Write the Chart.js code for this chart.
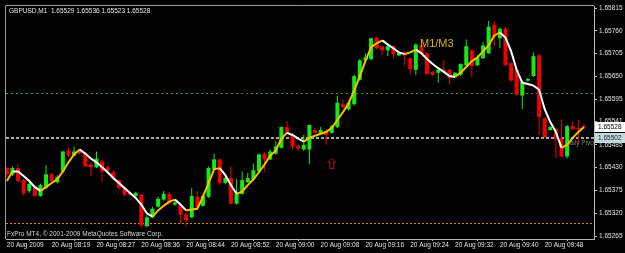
<!DOCTYPE html>
<html>
<head>
<meta charset="utf-8">
<script src="https://cdn.jsdelivr.net/npm/chart.js@4.4.1/dist/chart.umd.min.js"></script>
<style>
html, body { margin: 0; padding: 0; background: #000; }
canvas { display: block; }
</style>
</head>
<body>
<canvas id="chart" width="625" height="253"></canvas>
<script>
// GBPUSD M1, 20 Aug 2009 (one minute missing between 08:31 and 08:33)
const times = [
    '08:11','08:12','08:13','08:14','08:15','08:16','08:17','08:18','08:19','08:20',
    '08:21','08:22','08:23','08:24','08:25','08:26','08:27','08:28','08:29','08:30',
    '08:31','08:33','08:34','08:35','08:36','08:37','08:38','08:39','08:40','08:41',
    '08:42','08:43','08:44','08:45','08:46','08:47','08:48','08:49','08:50','08:51',
    '08:52','08:53','08:54','08:55','08:56','08:57','08:58','08:59','09:00','09:01',
    '09:02','09:03','09:04','09:05','09:06','09:07','09:08','09:09','09:10','09:11',
    '09:12','09:13','09:14','09:15','09:16','09:17','09:18','09:19','09:20','09:21',
    '09:22','09:23','09:24','09:25','09:26','09:27','09:28','09:29','09:30','09:31',
    '09:32','09:33','09:34','09:35','09:36','09:37','09:38','09:39','09:40','09:41',
    '09:42','09:43','09:44','09:45','09:46','09:47','09:48','09:49','09:50','09:51',
    '09:52','09:53','09:54','09:55'
];

const opens = [
    1.65429, 1.65414, 1.65429, 1.65400, 1.65374, 1.65386, 1.65362, 1.65381, 1.65414, 1.65395,
    1.65421, 1.65471, 1.65459, 1.65471, 1.65464, 1.65438, 1.65431, 1.65445, 1.65431, 1.65419,
    1.65400, 1.65381, 1.65369, 1.65362, 1.65365, 1.65289, 1.65310, 1.65336, 1.65353, 1.65367,
    1.65341, 1.65341, 1.65317, 1.65310, 1.65360, 1.65338, 1.65360, 1.65426, 1.65450, 1.65393,
    1.65405, 1.65343, 1.65367, 1.65395, 1.65402, 1.65421, 1.65464, 1.65450, 1.65464, 1.65478,
    1.65528, 1.65509, 1.65483, 1.65474, 1.65474, 1.65521, 1.65514, 1.65519, 1.65514, 1.65528,
    1.65583, 1.65571, 1.65583, 1.65642, 1.65689, 1.65692, 1.65744, 1.65723, 1.65713, 1.65723,
    1.65701, 1.65708, 1.65694, 1.65666, 1.65725, 1.65706, 1.65661, 1.65659, 1.65666, 1.65666,
    1.65651, 1.65654, 1.65677, 1.65713, 1.65677, 1.65694, 1.65706, 1.65775, 1.65742, 1.65765,
    1.65682, 1.65666, 1.65604, 1.65640, 1.65651, 1.65701, 1.65549, 1.65521, 1.65523, 1.65500,
    1.65457, 1.65530, 1.65526, 1.65529
];
const highs = [
    1.65433, 1.65433, 1.65438, 1.65402, 1.65395, 1.65388, 1.65391, 1.65436, 1.65419, 1.65412,
    1.65471, 1.65478, 1.65481, 1.65476, 1.65467, 1.65443, 1.65469, 1.65450, 1.65436, 1.65424,
    1.65402, 1.65386, 1.65372, 1.65372, 1.65367, 1.65315, 1.65336, 1.65360, 1.65374, 1.65372,
    1.65350, 1.65343, 1.65322, 1.65381, 1.65374, 1.65365, 1.65433, 1.65464, 1.65452, 1.65410,
    1.65433, 1.65402, 1.65421, 1.65417, 1.65440, 1.65464, 1.65467, 1.65474, 1.65493, 1.65530,
    1.65542, 1.65514, 1.65485, 1.65509, 1.65535, 1.65526, 1.65528, 1.65523, 1.65533, 1.65604,
    1.65595, 1.65592, 1.65654, 1.65692, 1.65706, 1.65744, 1.65746, 1.65725, 1.65725, 1.65725,
    1.65711, 1.65711, 1.65696, 1.65730, 1.65737, 1.65708, 1.65663, 1.65668, 1.65689, 1.65668,
    1.65661, 1.65682, 1.65739, 1.65715, 1.65701, 1.65734, 1.65784, 1.65784, 1.65768, 1.65770,
    1.65685, 1.65668, 1.65640, 1.65647, 1.65708, 1.65704, 1.65552, 1.65530, 1.65526, 1.65547,
    1.65533, 1.65542, 1.65545, 1.65536
];
const lows = [
    1.65407, 1.65410, 1.65395, 1.65362, 1.65369, 1.65360, 1.65360, 1.65379, 1.65395, 1.65391,
    1.65417, 1.65455, 1.65457, 1.65462, 1.65431, 1.65410, 1.65429, 1.65395, 1.65419, 1.65400,
    1.65376, 1.65362, 1.65362, 1.65360, 1.65284, 1.65286, 1.65308, 1.65334, 1.65350, 1.65341,
    1.65338, 1.65296, 1.65289, 1.65308, 1.65331, 1.65336, 1.65357, 1.65424, 1.65388, 1.65391,
    1.65341, 1.65341, 1.65365, 1.65393, 1.65400, 1.65419, 1.65421, 1.65448, 1.65462, 1.65476,
    1.65512, 1.65474, 1.65471, 1.65471, 1.65438, 1.65512, 1.65509, 1.65485, 1.65512, 1.65526,
    1.65573, 1.65568, 1.65580, 1.65640, 1.65687, 1.65689, 1.65715, 1.65701, 1.65699, 1.65694,
    1.65699, 1.65677, 1.65656, 1.65654, 1.65701, 1.65654, 1.65651, 1.65635, 1.65659, 1.65630,
    1.65649, 1.65651, 1.65675, 1.65649, 1.65675, 1.65692, 1.65704, 1.65723, 1.65718, 1.65675,
    1.65637, 1.65604, 1.65571, 1.65637, 1.65649, 1.65509, 1.65502, 1.65519, 1.65452, 1.65455,
    1.65452, 1.65521, 1.65488, 1.65523
];
const closes = [
    1.65414, 1.65429, 1.65398, 1.65369, 1.65391, 1.65362, 1.65388, 1.65414, 1.65398, 1.65407,
    1.65469, 1.65459, 1.65469, 1.65464, 1.65433, 1.65431, 1.65452, 1.65421, 1.65424, 1.65402,
    1.65381, 1.65365, 1.65365, 1.65369, 1.65291, 1.65310, 1.65331, 1.65355, 1.65367, 1.65343,
    1.65346, 1.65317, 1.65303, 1.65362, 1.65334, 1.65362, 1.65429, 1.65450, 1.65393, 1.65405,
    1.65343, 1.65367, 1.65400, 1.65405, 1.65424, 1.65462, 1.65450, 1.65469, 1.65481, 1.65528,
    1.65514, 1.65481, 1.65476, 1.65485, 1.65533, 1.65514, 1.65521, 1.65509, 1.65530, 1.65587,
    1.65576, 1.65587, 1.65651, 1.65689, 1.65696, 1.65742, 1.65718, 1.65713, 1.65723, 1.65704,
    1.65708, 1.65701, 1.65668, 1.65727, 1.65704, 1.65656, 1.65654, 1.65666, 1.65661, 1.65647,
    1.65659, 1.65680, 1.65723, 1.65675, 1.65696, 1.65725, 1.65770, 1.65746, 1.65765, 1.65677,
    1.65640, 1.65606, 1.65637, 1.65644, 1.65699, 1.65552, 1.65504, 1.65528, 1.65500, 1.65457,
    1.65530, 1.65523, 1.65523, 1.65528
];
// M1/M3 trend line
const maValues = [
    1.65398, 1.65421, 1.65421, 1.65410, 1.65398, 1.65383, 1.65374, 1.65383, 1.65393, 1.65402,
    1.65421, 1.65443, 1.65462, 1.65474, 1.65464, 1.65452, 1.65443, 1.65431, 1.65419, 1.65405,
    1.65393, 1.65381, 1.65369, 1.65357, 1.65341, 1.65320, 1.65312, 1.65327, 1.65338, 1.65348,
    1.65353, 1.65341, 1.65327, 1.65329, 1.65331, 1.65360, 1.65393, 1.65426, 1.65429, 1.65412,
    1.65388, 1.65367, 1.65372, 1.65388, 1.65402, 1.65419, 1.65438, 1.65459, 1.65471, 1.65500,
    1.65514, 1.65509, 1.65500, 1.65493, 1.65502, 1.65507, 1.65512, 1.65516, 1.65526, 1.65545,
    1.65564, 1.65585, 1.65616, 1.65651, 1.65687, 1.65720, 1.65730, 1.65737, 1.65727, 1.65718,
    1.65708, 1.65704, 1.65708, 1.65715, 1.65706, 1.65692, 1.65680, 1.65670, 1.65661, 1.65651,
    1.65649, 1.65659, 1.65673, 1.65687, 1.65696, 1.65711, 1.65725, 1.65749, 1.65756, 1.65744,
    1.65711, 1.65666, 1.65635, 1.65632, 1.65628, 1.65618, 1.65571, 1.65540, 1.65516, 1.65478,
    1.65485, 1.65502, 1.65516, 1.65528
];

const priceTicks = [1.65815, 1.65760, 1.65705, 1.65650, 1.65595, 1.65541, 1.65485, 1.65430, 1.65375, 1.65320, 1.65265];
const xTickIdx = [0, 8, 16, 24, 32, 40, 48, 56, 64, 72, 80, 88, 96];
const xTickLabels = ['20 Aug 2009', '20 Aug 08:19', '20 Aug 08:27', '20 Aug 08:36', '20 Aug 08:44', '20 Aug 08:52',
    '20 Aug 09:00', '20 Aug 09:08', '20 Aug 09:16', '20 Aug 09:24', '20 Aug 09:32', '20 Aug 09:40', '20 Aug 09:48'];

// horizontal lines: green level, daily pivot, orange level
const levelValues = [1.65609, 1.65502, 1.65296];
const bidPrice = 1.65528;
const pivotPrice = 1.65502;
const arrowIdx = [58];
const arrowPrice = [1.65441];

const GREEN = '#16e816';
const RED = '#f20000';
const FONT = "'Liberation Sans', Arial, sans-serif";
const AXIS = '#b8b8b8';

const candleColors = times.map((t, i) => closes[i] >= opens[i] ? GREEN : RED);
const bodies = times.map((t, i) => ({ x: i, y: [opens[i], closes[i]] }));
const wicks = times.map((t, i) => ({ x: i, y: [lows[i], highs[i]] }));
const maLine = times.map((t, i) => ({ x: i, y: maValues[i] }));
const arrows = arrowIdx.map((ix, k) => ({ x: ix, y: arrowPrice[k] }));

function makeArrow() {
    const c = document.createElement('canvas');
    c.width = 9;
    c.height = 11;
    const g = c.getContext('2d');
    g.strokeStyle = '#b01515';
    g.lineWidth = 1;
    g.beginPath();
    g.moveTo(4.5, 0.5);
    g.lineTo(8.5, 4.5);
    g.lineTo(6.5, 4.5);
    g.lineTo(6.5, 10.5);
    g.lineTo(2.5, 10.5);
    g.lineTo(2.5, 4.5);
    g.lineTo(0.5, 4.5);
    g.closePath();
    g.stroke();
    return c;
}

const levelStyles = [
    { color: '#2b8c2b', width: 1, dash: [2, 3] },
    { color: '#a9a9a9', width: 2, dash: [3, 2] },
    { color: '#d88a00', width: 1, dash: [2, 2] }
];

const overlay = {
    id: 'overlay',
    beforeDraw(chart) {
        const { ctx, width, height } = chart;
        ctx.save();
        ctx.fillStyle = '#000';
        ctx.fillRect(0, 0, width, height);
        ctx.restore();
    },
    beforeDatasetsDraw(chart) {
        const { ctx, chartArea: a, scales: { y } } = chart;
        ctx.save();
        ctx.beginPath();
        ctx.rect(a.left, a.top, a.right - a.left, a.bottom - a.top);
        ctx.clip();
        levelStyles.forEach((s, k) => {
            let py = Math.round(y.getPixelForValue(levelValues[k]));
            if (s.width === 1) py += 0.5;
            ctx.strokeStyle = s.color;
            ctx.lineWidth = s.width;
            ctx.setLineDash(s.dash);
            ctx.beginPath();
            ctx.moveTo(a.left, py);
            ctx.lineTo(a.right, py);
            ctx.stroke();
        });
        ctx.setLineDash([]);
        ctx.font = '6.5px ' + FONT;
        ctx.fillStyle = '#7c7c7c';
        ctx.textBaseline = 'middle';
        ctx.fillText('Daily Pivot ' + pivotPrice.toFixed(5), a.right - 29, y.getPixelForValue(pivotPrice) + 5);
        ctx.restore();
    },
    afterDraw(chart) {
        const { ctx, chartArea: a, scales: { y } } = chart;
        ctx.save();
        // frame
        ctx.strokeStyle = '#9a9a9a';
        ctx.lineWidth = 1;
        ctx.beginPath();
        ctx.moveTo(a.left - 0.5, a.bottom);
        ctx.lineTo(a.left - 0.5, a.top - 0.5);
        ctx.lineTo(a.right, a.top - 0.5);
        ctx.stroke();

        ctx.textBaseline = 'middle';
        ctx.font = '6.5px ' + FONT;
        ctx.fillStyle = '#e6e6e6';
        ctx.fillText('GBPUSD,M1  ' + [opens, highs, lows, closes].map(s => s[s.length - 1].toFixed(5)).join(' '), a.left + 3, a.top + 5);
        ctx.fillStyle = '#d2d2d2';
        ctx.fillText('FxPro MT4, \u00a9 2001-2009 MetaQuotes Software Corp.', a.left + 1, a.bottom - 5);

        ctx.font = '11px ' + FONT;
        ctx.fillStyle = '#d6b800';
        ctx.fillText('M1/M3', 420, 44);

        // price boxes on the axis
        ctx.font = '6.5px ' + FONT;
        const yb = Math.round(y.getPixelForValue(bidPrice));
        ctx.fillStyle = '#ffffff';
        ctx.fillRect(a.right + 1, yb - 5, 30, 10);
        ctx.fillStyle = '#000000';
        ctx.fillText(bidPrice.toFixed(5), a.right + 4, yb);
        const yp = Math.round(y.getPixelForValue(pivotPrice));
        ctx.fillStyle = '#c2dade';
        ctx.fillRect(a.right + 1, yp - 5, 30, 10);
        ctx.fillStyle = '#1a1a1a';
        ctx.fillText(pivotPrice.toFixed(5), a.right + 4, yp);
        ctx.restore();
    }
};

new Chart(document.getElementById('chart'), {
    type: 'bar',
    data: {
        datasets: [
            {
                type: 'line',
                label: 'M1/M3',
                data: maLine,
                order: 0,
                borderWidth: 2,
                borderColor: '#ffffff',
                pointRadius: 0,
                tension: 0,
                segment: {
                    borderColor: c => c.p1.parsed.y > c.p0.parsed.y ? '#f2c200' : '#ffffff'
                }
            },
            {
                type: 'line',
                label: 'arrow',
                data: arrows,
                order: 0,
                showLine: false,
                pointStyle: makeArrow(),
                pointRadius: 5
            },
            {
                label: 'body',
                data: bodies,
                order: 1,
                backgroundColor: candleColors,
                barThickness: 4,
                maxBarThickness: 4,
                minBarLength: 1,
                grouped: false,
                inflateAmount: 0
            },
            {
                label: 'wick',
                data: wicks,
                order: 2,
                backgroundColor: candleColors,
                barThickness: 1,
                maxBarThickness: 1,
                grouped: false,
                inflateAmount: 0
            }
        ]
    },
    options: {
        responsive: false,
        animation: false,
        devicePixelRatio: 1,
        layout: { padding: { left: 2, top: 2, right: 0, bottom: 0 } },
        plugins: {
            legend: { display: false },
            tooltip: { enabled: false }
        },
        scales: {
            x: {
                type: 'linear',
                min: -0.15,
                max: 104.8,
                offset: false,
                afterBuildTicks: s => { s.ticks = xTickIdx.map(v => ({ value: v })); },
                afterFit: s => { s.height = 14; },
                ticks: {
                    autoSkip: false,
                    maxRotation: 0,
                    align: 'start',
                    padding: 0,
                    color: '#e0e0e0',
                    font: { family: FONT, size: 6.5 },
                    callback: v => xTickLabels[xTickIdx.indexOf(v)]
                },
                grid: { drawOnChartArea: false, tickLength: 2, color: AXIS },
                border: { color: AXIS }
            },
            y: {
                position: 'right',
                min: 1.65258,
                max: 1.65820,
                afterBuildTicks: s => { s.ticks = priceTicks.map(v => ({ value: v })); },
                afterFit: s => { s.width = 31; },
                ticks: {
                    padding: 2,
                    color: '#e0e0e0',
                    font: { family: FONT, size: 6.5 },
                    callback: v => v.toFixed(5)
                },
                grid: { drawOnChartArea: false, tickLength: 3, color: AXIS },
                border: { color: AXIS }
            }
        }
    },
    plugins: [overlay]
});
</script>
</body>
</html>
